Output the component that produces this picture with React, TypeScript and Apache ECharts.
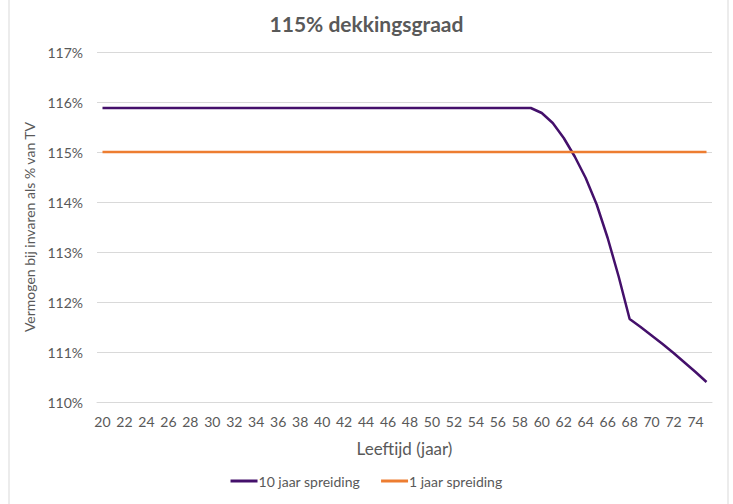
import React, { useEffect, useRef } from "react";
import * as echarts from "echarts";

const ages: string[] = [];
for (let a = 20; a <= 75; a++) ages.push(String(a));

const flat10 = 115.88;
const spread10Tail = [
  115.78, 115.58, 115.28, 114.91, 114.48, 113.95, 113.28, 112.51, 111.66,
  111.5, 111.33, 111.16, 110.98, 110.79, 110.6, 110.4,
];
const spread10: number[] = [
  ...Array(40).fill(flat10),
  ...spread10Tail,
];
const spread1: number[] = Array(56).fill(115);

const FONT = "Lato, 'Open Sans', sans-serif";
const GREY = "#595959";

export default function App() {
  const ref = useRef<HTMLDivElement>(null);
  useEffect(() => {
    if (!ref.current) return;
    const chart = echarts.init(ref.current, undefined, { renderer: "svg" });
    chart.setOption({
      animation: false,
      backgroundColor: "#ffffff",
      textStyle: { fontFamily: FONT },
      title: {
        text: "115% dekkingsgraad",
        left: "center",
        top: 8,
        textStyle: { fontFamily: FONT, fontSize: 21, fontWeight: "bold", color: GREY },
      },
      graphic: [
        {
          type: "rect",
          shape: { x: 9, y: -5, width: 719, height: 520 },
          style: { fill: "none", stroke: "#d9d9d9", lineWidth: 1 },
          silent: true,
        },
      ],
      legend: {
        bottom: 11,
        left: "center",
        itemWidth: 27,
        itemHeight: 3,
        itemGap: 21,
        icon: "rect",
        textStyle: { fontFamily: FONT, fontSize: 14, color: GREY, padding: [0, 0, 0, -4] },
        data: ["10 jaar spreiding", "1 jaar spreiding"],
      },
      grid: { left: 97, right: 21, top: 52, bottom: 102, containLabel: false },
      xAxis: {
        type: "category",
        data: ages,
        boundaryGap: true,
        name: "Leeftijd (jaar)",
        nameLocation: "middle",
        nameGap: 38,
        nameTextStyle: { fontFamily: FONT, fontSize: 17, color: GREY },
        axisLine: { show: true, lineStyle: { color: "#d9d9d9" } },
        axisTick: { show: false },
        axisLabel: { interval: 1, color: GREY, fontSize: 14, fontFamily: FONT, margin: 12 },
      },
      yAxis: {
        type: "value",
        min: 110,
        max: 117,
        interval: 1,
        name: "Vermogen bij invaren als % van TV",
        nameLocation: "middle",
        nameGap: 50,
        nameTextStyle: { fontFamily: FONT, fontSize: 14, color: GREY },
        axisLine: { show: false },
        axisTick: { show: false },
        axisLabel: { formatter: "{value}%", color: GREY, fontSize: 14, fontFamily: FONT, margin: 14 },
        splitLine: { lineStyle: { color: "#d9d9d9", width: 1 } },
      },
      series: [
        {
          name: "10 jaar spreiding",
          type: "line",
          data: spread10,
          showSymbol: false,
          symbol: "none",
          lineStyle: { color: "#44106b", width: 2.5 },
          itemStyle: { color: "#44106b" },
        },
        {
          name: "1 jaar spreiding",
          type: "line",
          data: spread1,
          showSymbol: false,
          symbol: "none",
          lineStyle: { color: "#ed7d31", width: 2.5 },
          itemStyle: { color: "#ed7d31" },
        },
      ],
    });
    return () => chart.dispose();
  }, []);
  return (
    <div
      ref={ref}
      style={{ position: "fixed", left: 0, top: 0, width: 733, height: 504 }}
    />
  );
}
